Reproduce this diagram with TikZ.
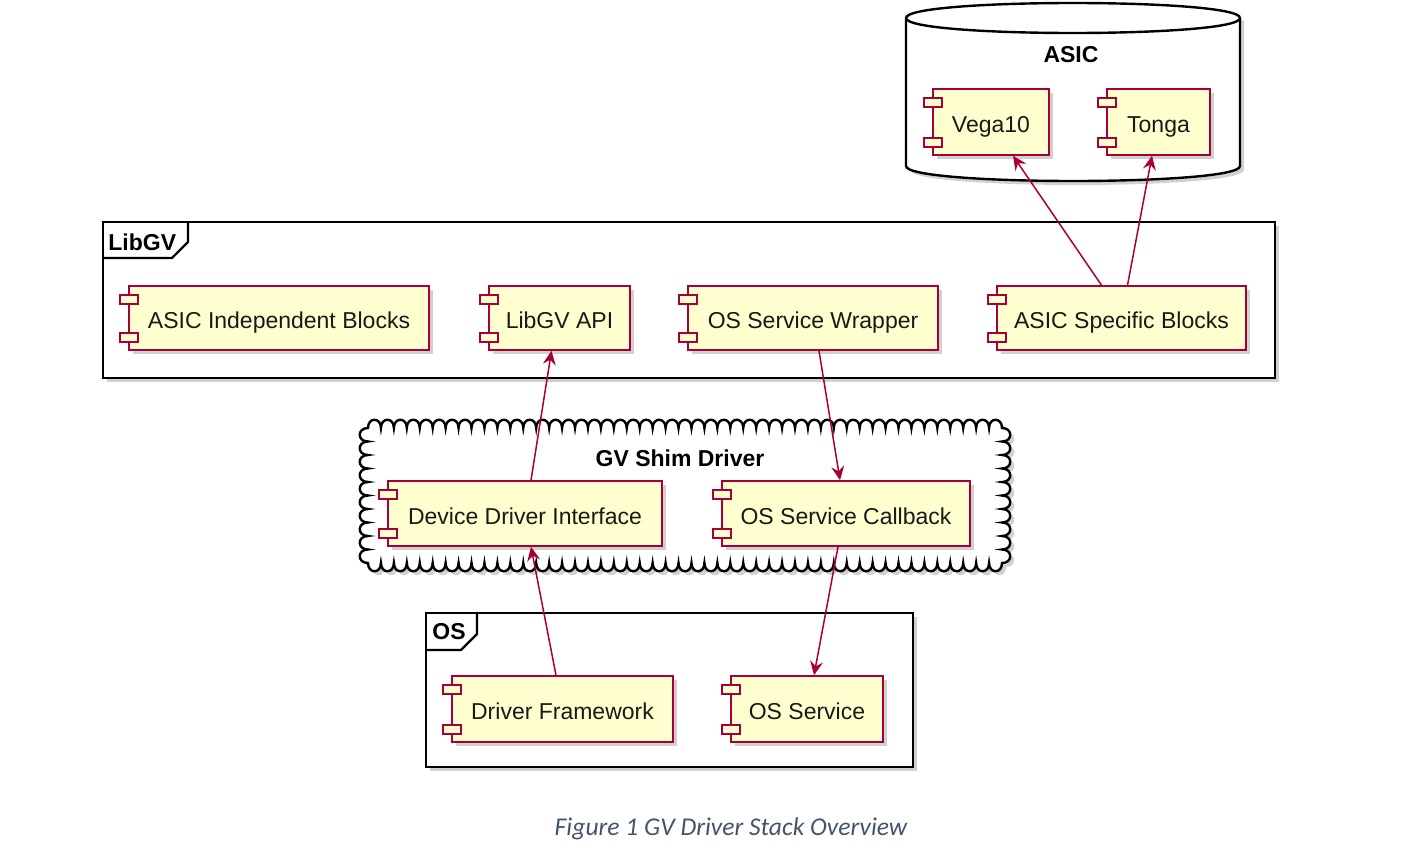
\documentclass[tikz,border=0pt]{standalone}
\usepackage{fontspec}
\setmainfont{Liberation Sans}
\newfontfamily\capfont{Carlito}
\usetikzlibrary{shadows,arrows.meta,calc}
\definecolor{compfill}{HTML}{FEFECE}
\definecolor{compline}{HTML}{A80036}
\definecolor{capcol}{HTML}{44546A}
\tikzset{
  shad/.style={drop shadow={shadow xshift=2pt, shadow yshift=-2pt, opacity=0.3, fill=black!60}},
  comp/.style={draw=compline, fill=compfill, line width=0.8pt, rectangle, inner sep=0pt, shad,
    font=\fontsize{11.5}{13}\selectfont, text=black!90, text height=11.5pt, text depth=0.8pt},
  compsmall/.style={draw=compline, fill=compfill, line width=0.8pt},
  frame/.style={draw=black, line width=1.2pt, fill=white, shad},
  tabline/.style={draw=black, line width=1.2pt},
  grouplabel/.style={font=\bfseries\fontsize{11.5}{13}\selectfont, inner sep=0pt},
  dep/.style={draw=compline, line width=0.75pt, -{Stealth[length=7pt,width=6.5pt,inset=2.5pt]}},
}
\newcommand\comp[6]{%
  \node[comp, minimum width={(#4-#2)*0.5pt}, minimum height={(#5-#3)*0.5pt}] (#1) at ({(#2+#4)/2},{(#3+#5)/2}) {#6};
  \draw[compsmall] (#2-9,#3+9) rectangle ++(18,9);
  \draw[compsmall] (#2-9,#5-17) rectangle ++(18,9);
}
\begin{document}
\begin{tikzpicture}[x=0.5pt,y=-0.5pt]
\useasboundingbox (0,0) rectangle (1408,851);

% ASIC cylinder
\draw[frame] (906,18) -- (906,166) .. controls (906,186) and (1240,186) .. (1240,166) -- (1240,18)
  .. controls (1240,-2) and (906,-2) .. (906,18) -- cycle;
\draw[tabline] (906,18) .. controls (906,38) and (1240,38) .. (1240,18);
\node[grouplabel] (asiclbl) at (1071,55) {ASIC};

% LibGV frame
\draw[frame] (103,222) rectangle (1275,378);
\draw[tabline] (103,258) -- (172,258) -- (188,242) -- (188,222);
\node[grouplabel, anchor=base west] (libgvlbl) at (108,250) {LibGV};

% GV Shim Driver cloud
\draw[frame] (368,428)
  \foreach \i in {1,...,49} { .. controls +(0,-11) and +(0,-11) .. ++(12.939,0) }
  \foreach \i in {1,...,10} { .. controls +(11,0) and +(11,0) .. ++(0,13.5) }
  \foreach \i in {1,...,49} { .. controls +(0,11) and +(0,11) .. ++(-12.939,0) }
  \foreach \i in {1,...,10} { .. controls +(-11,0) and +(-11,0) .. ++(0,-13.5) }
  -- cycle;
\node[grouplabel] (shimlbl) at (680,458) {GV Shim Driver};

% OS frame
\draw[frame] (426,613) rectangle (913,767);
\draw[tabline] (426,650) -- (461,650) -- (477,634) -- (477,613);
\node[grouplabel, anchor=base west] (oslbl) at (432,639) {OS};

% components
\comp{vega}{933}{89}{1049}{155}{Vega10}
\comp{tonga}{1107}{89}{1210}{155}{Tonga}
\comp{aib}{129}{286}{429}{350}{ASIC Independent Blocks}
\comp{api}{489}{286}{630}{350}{LibGV API}
\comp{osw}{688}{286}{938}{350}{OS Service Wrapper}
\comp{asb}{997}{286}{1246}{350}{ASIC Specific Blocks}
\comp{ddi}{388}{481}{662}{546}{Device Driver Interface}
\comp{osc}{722}{481}{970}{546}{OS Service Callback}
\comp{df}{452}{676}{673}{742}{Driver Framework}
\comp{oss}{731}{676}{883}{742}{OS Service}

% connectors
\draw[dep] ($(asb.north)+(-20,0)$) -- ($(vega.south)+(22,0)$);
\draw[dep] ($(asb.north)+(6,0)$) -- ($(tonga.south)+(-6.5,0)$);
\draw[dep] ($(ddi.north)+(6,0)$) -- ($(api.south)+(-8,0)$);
\draw[dep] ($(df.north)+(-6.5,0)$) -- ($(ddi.south)+(6,0)$);
\draw[dep] ($(osw.south)+(6,0)$) -- ($(osc.north)+(-6,0)$);
\draw[dep] ($(osc.south)+(-8,0)$) -- ($(oss.north)+(7,0)$);

% caption
\node[font=\capfont\itshape\fontsize{12.8}{15}\selectfont, text=capcol] (caption) at (731,829) {Figure 1 GV Driver Stack Overview};
\end{tikzpicture}
\end{document}
